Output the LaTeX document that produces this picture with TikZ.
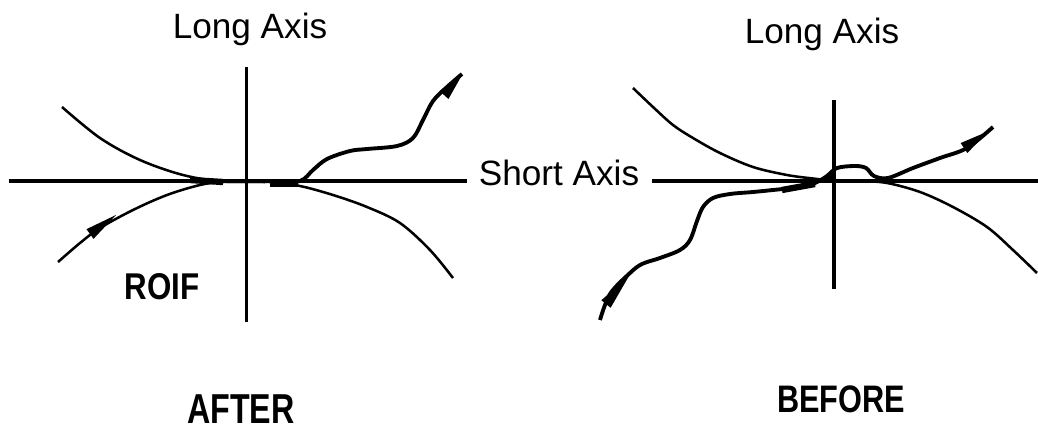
\documentclass[tikz,border=0pt]{standalone}
\usepackage{fontspec}
\setmainfont{Liberation Sans}
\usetikzlibrary{calc}
\tikzset{
  axisline/.style={line width=0.95pt},
  curve/.style={line width=0.72pt, line join=round},
  wavy/.style={line width=1.1pt, line join=round},
  thickpart/.style={line width=1.8pt},
  lbl/.style={inner sep=0pt, anchor=base, font=\fontsize{10pt}{12pt}\selectfont},
  bold/.style={inner sep=0pt, anchor=base},
}
\newcommand{\wedgeat}[2]{\fill ($(#1)!1.7pt!90:(#2)$) -- (#2) -- ($(#1)!1.7pt!-90:(#2)$) -- cycle;}
\begin{document}
\begin{tikzpicture}[x=0.01cm, y=-0.01cm]
\useasboundingbox (0,0) rectangle (1038,427);

% ---- labels
\node[lbl] (la1) at (250,38) {Long Axis};
\node[lbl] (la2) at (822,43) {Long Axis};
\node[lbl] (sa) at (559,185) {Short Axis};
\node[bold] (roif) at (162,299) {\fontsize{10.6pt}{12pt}\selectfont\scalebox{0.84}[1]{\bfseries ROIF}};
\node[bold] (after) at (241,423) {\fontsize{11.9pt}{14pt}\selectfont\scalebox{0.77}[1]{\bfseries AFTER}};
\node[bold] (before) at (841,412) {\fontsize{10.9pt}{13pt}\selectfont\scalebox{0.80}[1]{\bfseries BEFORE}};

% ---- axes
\coordinate (h1) at (9,181);
\coordinate (h2) at (467,181);
\coordinate (h3) at (652,181);
\coordinate (h4) at (1038,181);
\coordinate (v1a) at (246.7,67);
\coordinate (v1b) at (246.7,322);
\coordinate (v2a) at (834,100);
\coordinate (v2b) at (834,289);
\draw[axisline] (h1) -- (h2);
\draw[axisline] (h3) -- (h4);
\draw[axisline] (v1a) -- (v1b);
\draw[axisline] (v2a) -- (v2b);

% ---- AFTER (left) curves
\draw[curve] plot[smooth, tension=0.55] coordinates {(62,107) (100,138) (140,160) (183,175) (223,181.5) (270,182) (300,186) (333,195) (367,207) (400,223) (430,250) (453,278)};
\draw[curve] plot[smooth, tension=0.55] coordinates {(58,262) (80,243) (100,228) (133,210) (167,195) (200,185) (223,182) (265,182)};
\draw[wavy] plot[smooth, tension=0.55] coordinates {(272,183) (300,181) (313,170) (327,159) (350,151) (367,149) (397,146) (413,138) (423,120) (433,101) (447,87) (462,74)};
\draw[thickpart] (190,180) -- (223,182);
\draw[thickpart] (270,183.5) -- (298,183.5);
\coordinate (a1b) at (90,234);
\coordinate (a1t) at (116,215);
\coordinate (a2b) at (444,95);
\coordinate (a2t) at (462,75);
\wedgeat{a1b}{a1t}
\wedgeat{a2b}{a2t}

% ---- BEFORE (right) curves
\draw[curve] plot[smooth, tension=0.55] coordinates {(633,88) (653,107) (673,125) (693,138) (720,153) (753,167) (787,175) (813,178.5) (833,180.5) (860,181) (887,183) (920,192) (953,207) (987,227) (1013,250) (1037,273)};
\draw[wavy] plot[smooth, tension=0.55] coordinates {(600,320) (610,294) (630,273) (642,264) (660,258) (680,250) (690,240) (697,221) (703,207) (713,198) (730,194) (753,192) (773,190) (800,187) (815,183) (827,176) (837,168) (855,166) (866,168) (874,176) (888,178) (913,168) (940,158) (967,148) (993,127)};
\draw[thickpart] (782,190) -- (815,184);
\fill (831,177) circle (5);
\coordinate (a3b) at (606,304);
\coordinate (a3t) at (629,276);
\coordinate (a4b) at (964,148);
\coordinate (a4t) at (989,131);
\wedgeat{a3b}{a3t}
\wedgeat{a4b}{a4t}
\end{tikzpicture}
\end{document}
